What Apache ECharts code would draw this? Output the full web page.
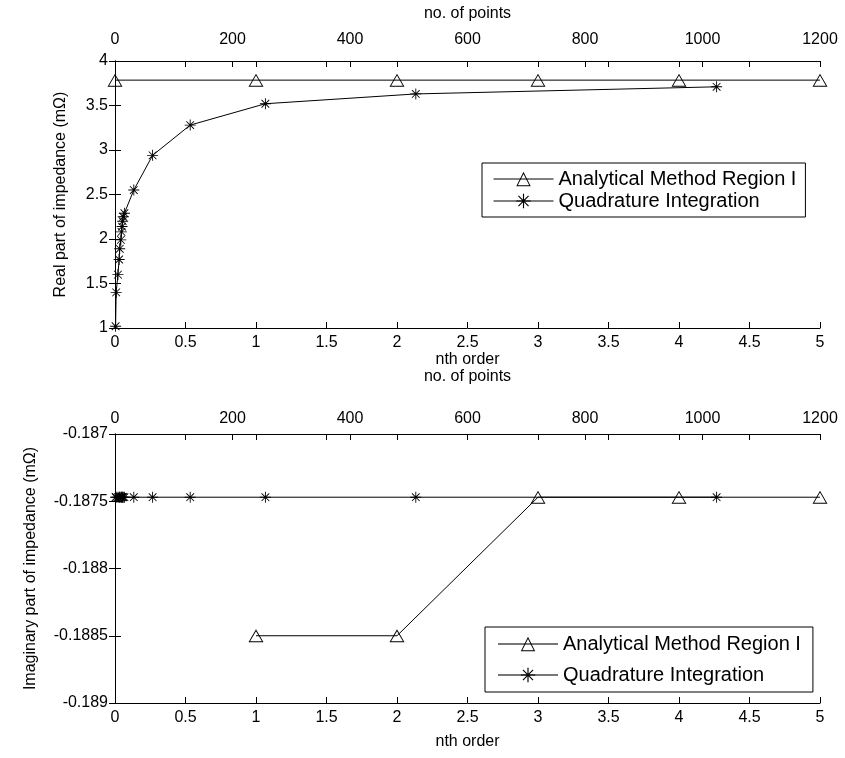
<!DOCTYPE html>
<html>
<head>
<meta charset="utf-8">
<script src="https://cdn.jsdelivr.net/npm/echarts@6/dist/echarts.min.js"></script>
<style>
  html, body { margin: 0; padding: 0; background: #fff; }
  #chart { width: 845px; height: 758px; }
</style>
</head>
<body>
<div id="chart"></div>
<script>
// nth order for the analytical method (bottom x axis)
const nthOrder = [0, 1, 2, 3, 4, 5];
const realAnalytical = [3.785, 3.785, 3.785, 3.785, 3.785, 3.785];

// no. of points for quadrature integration (top x axis)
const nPoints = [1, 2, 5, 7, 8, 10, 11, 12, 13, 14, 16, 32, 64, 128, 256, 512, 1024];
const realQuadrature = [1.02, 1.40, 1.60, 1.77, 1.89, 1.99, 2.08, 2.14, 2.20, 2.25, 2.29, 2.55, 2.94, 3.28, 3.52, 3.63, 3.71];

const nthOrderImag = [1, 2, 3, 4, 5];
const imagAnalytical = [-0.1885, -0.1885, -0.18747, -0.18747, -0.18747];
const imagQuadrature = [-0.18747, -0.18747, -0.18747, -0.18747, -0.18747, -0.18747, -0.18747, -0.18747, -0.18747,
    -0.18747, -0.18747, -0.18747, -0.18747, -0.18747, -0.18747, -0.18747, -0.18747];

const nameA = 'Analytical Method Region I';
const nameQ = 'Quadrature Integration';

// open triangle (ring) and asterisk, drawn as filled paths
const tri = 'path://M0,-6.5L7.5,6.5L-7.5,6.5Z M0,-4.6L-5.9,5.6L5.9,5.6Z';
const star = 'path://M-0.4,-5L0.4,-5L0.4,5L-0.4,5Z M-5,-0.4L5,-0.4L5,0.4L-5,0.4Z ' +
    'M-3.22,-3.78L3.78,3.22L3.22,3.78L-3.78,-3.22Z ' +
    'M-3.78,3.22L3.22,-3.78L3.78,-3.22L-3.22,3.78Z';

const font = 'Liberation Sans, Arial, sans-serif';
const txt = { color: '#000', fontFamily: font, fontSize: 16 };
const line = { lineStyle: { color: '#000', width: 1 } };
const tick = { show: true, inside: true, length: 6, lineStyle: { color: '#000' } };

function pair(xs, ys) { return xs.map((x, i) => [x, ys[i]]); }

function xAxes(grid, topLabelMargin, topNameGap, bottomNameGap) {
    return [
        { gridIndex: grid, type: 'value', position: 'bottom', min: 0, max: 5, interval: 0.5,
          name: 'nth order', nameLocation: 'middle', nameGap: bottomNameGap, nameTextStyle: txt,
          axisLine: line, axisTick: tick, splitLine: { show: false },
          axisLabel: Object.assign({ margin: 7, formatter: v => String(v) }, txt) },
        { gridIndex: grid, type: 'value', position: 'top', min: 0, max: 1200, interval: 200,
          name: 'no. of points', nameLocation: 'middle', nameGap: topNameGap, nameTextStyle: txt,
          axisLine: line, axisTick: tick, splitLine: { show: false },
          axisLabel: Object.assign({ margin: topLabelMargin, formatter: v => String(v) }, txt) },
        { gridIndex: grid, type: 'value', position: 'top', min: 0, max: 5, interval: 0.5,
          axisLine: { show: false }, axisTick: tick, axisLabel: { show: false }, splitLine: { show: false } }
    ];
}

function yAxes(grid, min, max, interval, name, nameGap, fmt) {
    return [
        { gridIndex: grid, type: 'value', position: 'left', min: min, max: max, interval: interval,
          name: name, nameLocation: 'middle', nameGap: nameGap, nameTextStyle: txt,
          axisLine: line, axisTick: tick, splitLine: { show: false },
          axisLabel: Object.assign({ margin: 7, formatter: fmt }, txt) },
        { gridIndex: grid, type: 'value', position: 'right', min: min, max: max, interval: interval,
          axisLine: line, axisTick: tick, axisLabel: { show: false }, splitLine: { show: false } }
    ];
}

function series(name, x, y, data, sym, size) {
    return {
        name: name, type: 'line', xAxisIndex: x, yAxisIndex: y, data: data,
        symbol: sym, symbolSize: size, showAllSymbol: true, clip: false, animation: false,
        lineStyle: { color: '#000', width: 1 },
        itemStyle: { color: '#000' }
    };
}

function legend(left, top, gap, pad, lineColor, lineWidth) {
    return {
        orient: 'vertical', left: left, top: top, data: [nameA, nameQ],
        backgroundColor: '#fff', borderColor: '#000', borderWidth: 1,
        padding: pad, itemGap: gap, itemWidth: 60, itemHeight: 18,
        lineStyle: { color: lineColor, width: lineWidth },
        textStyle: { color: '#000', fontFamily: font, fontSize: 20 }, selectedMode: false
    };
}

const chart = echarts.init(document.getElementById('chart'));
chart.setOption({
    backgroundColor: '#fff',
    animation: false,
    grid: [
        { left: 115, top: 61, width: 705, height: 267 },
        { left: 115, top: 434, width: 705, height: 269 }
    ],
    xAxis: xAxes(0, 13, 39, 23).concat(xAxes(1, 7, 49, 31)),
    yAxis: yAxes(0, 1, 4, 0.5, 'Real part of impedance (mΩ)', 46, v => String(v))
        .concat(yAxes(1, -0.189, -0.187, 0.0005, 'Imaginary part of impedance (mΩ)', 76, v => String(+v.toFixed(4)))),
    legend: [
        legend(482, 163, 2, [6, 9, 6, 11], '#000', 1),
        legend(485, 627, 11, [7, 12, 7, 12], '#777', 2)
    ],
    series: [
        series(nameA, 0, 0, pair(nthOrder, realAnalytical), tri, [15, 13]),
        series(nameQ, 1, 0, pair(nPoints, realQuadrature), star, 11),
        series(nameA, 3, 2, pair(nthOrderImag, imagAnalytical), tri, [15, 13]),
        series(nameQ, 4, 2, pair(nPoints, imagQuadrature), star, 11)
    ]
});
</script>
</body>
</html>
